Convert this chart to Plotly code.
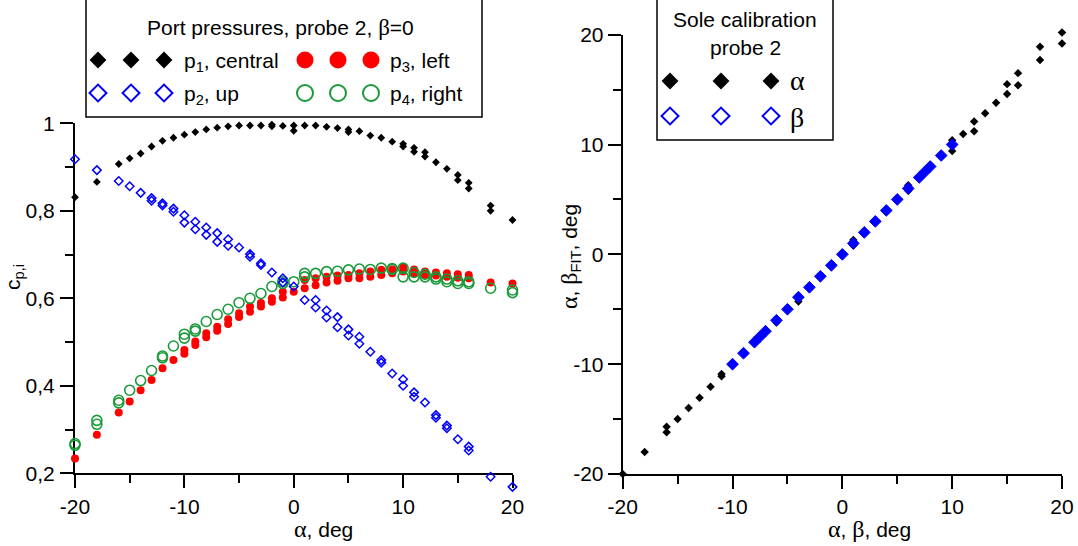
import plotly.graph_objects as go

W, H = 1078, 546

# ---- Port pressure coefficients, probe 2, beta = 0 ----
p1_alpha = [-20, -18, -16, -15, -14, -13, -12, -11, -10, -9, -8, -7, -6, -5, -4, -3, -2, -2, -1, 0, 0,
            1, 2, 3, 4, 5, 5, 6, 7, 8, 9, 10, 10, 11, 11, 12, 12, 13, 14, 15, 15, 16, 16, 18, 18, 20]
p1_cp = [0.831, 0.866, 0.907, 0.920, 0.931, 0.947, 0.960, 0.967, 0.974, 0.980, 0.986, 0.990, 0.993, 0.995,
         0.995, 0.995, 0.997, 0.993, 0.994, 0.995, 0.983,
         0.995, 0.995, 0.992, 0.989, 0.986, 0.980, 0.982, 0.972, 0.967, 0.958, 0.953, 0.947, 0.944, 0.935,
         0.934, 0.924, 0.911, 0.896, 0.882, 0.870, 0.864, 0.851, 0.812, 0.800, 0.779]

p2_alpha = [-20, -18, -16, -15, -14, -13, -13, -12, -12, -11, -11, -10, -10, -9, -9, -8, -8, -7, -7, -6, -6,
            -5, -4, -4, -3, -3, -2, -1, -1, 0, 1, 2, 2, 3, 3, 4, 4, 5, 5, 6, 6, 7, 8, 8, 9, 10, 10,
            11, 11, 12, 13, 13, 14, 14, 15, 16, 16, 18, 20]
p2_cp = [0.918, 0.893, 0.868, 0.856, 0.841, 0.829, 0.823, 0.817, 0.812, 0.805, 0.798, 0.790, 0.773, 0.775,
         0.758, 0.762, 0.745, 0.749, 0.729, 0.735, 0.720, 0.716, 0.701, 0.695, 0.680, 0.676, 0.659, 0.646,
         0.636, 0.627, 0.596, 0.596, 0.579, 0.572, 0.556, 0.557, 0.534, 0.529, 0.515, 0.512, 0.496, 0.478,
         0.459, 0.453, 0.428, 0.415, 0.400, 0.385, 0.375, 0.362, 0.333, 0.327, 0.309, 0.303, 0.278, 0.261,
         0.252, 0.192, 0.169]

p3_alpha = [-20, -18, -16, -15, -14, -13, -12, -11, -10, -10, -9, -9, -8, -8, -7, -7, -6, -6, -5, -5, -4, -4,
            -3, -3, -2, -2, -1, -1, 0, 1, 1, 2, 2, 3, 3, 4, 4, 5, 5, 6, 6, 7, 7, 8, 8, 9, 9, 10, 10,
            11, 11, 12, 12, 13, 13, 14, 14, 15, 15, 16, 16, 18, 20]
p3_cp = [0.234, 0.288, 0.339, 0.364, 0.390, 0.413, 0.440, 0.459, 0.482, 0.473, 0.501, 0.493, 0.520, 0.511,
         0.535, 0.526, 0.552, 0.541, 0.566, 0.557, 0.581, 0.569, 0.589, 0.581, 0.600, 0.592, 0.615, 0.602,
         0.615, 0.642, 0.623, 0.646, 0.630, 0.649, 0.636, 0.652, 0.640, 0.653, 0.646, 0.657, 0.646, 0.661,
         0.649, 0.665, 0.653, 0.666, 0.657, 0.671, 0.661, 0.666, 0.657, 0.661, 0.653, 0.659, 0.652, 0.657,
         0.649, 0.655, 0.647, 0.653, 0.646, 0.636, 0.634]

p4_alpha = [-20, -20, -18, -18, -16, -16, -15, -14, -13, -12, -12, -11, -10, -10, -9, -9, -8, -7, -6, -5, -4,
            -3, -2, -1, -1, 0, 1, 1, 2, 3, 4, 5, 6, 7, 8, 9, 9, 10, 10, 11, 11, 12, 12, 13, 13, 14, 14,
            15, 15, 16, 16, 18, 20, 20]
p4_cp = [0.268, 0.264, 0.321, 0.312, 0.367, 0.361, 0.390, 0.412, 0.435, 0.468, 0.464, 0.491, 0.518, 0.509,
         0.530, 0.525, 0.547, 0.563, 0.575, 0.590, 0.600, 0.611, 0.627, 0.634, 0.638, 0.638, 0.657, 0.649,
         0.657, 0.661, 0.662, 0.665, 0.667, 0.666, 0.669, 0.668, 0.666, 0.669, 0.649, 0.659, 0.649, 0.655,
         0.649, 0.649, 0.644, 0.644, 0.638, 0.640, 0.634, 0.638, 0.634, 0.623, 0.619, 0.613]

# ---- Sole calibration, probe 2: fitted vs. set angles ----
cal_alpha = [-20, -18, -16, -16, -15, -14, -13, -12, -11, -11, -10, -10, -9, -8, -7, -6, -6, -5, -4, -4,
             -3, -2, -1, 0, 1, 1, 2, 3, 4, 5, 6, 6, 7, 8, 9, 10, 10, 11, 12, 12, 13, 14, 15, 15, 16, 16,
             18, 18, 20, 20]
cal_alpha_fit = [-20.0, -18.0, -15.7, -16.2, -15.0, -14.0, -13.05, -12.05, -11.1, -10.9, -9.9, -10.1, -9.0,
                 -8.0, -7.0, -6.2, -5.9, -5.0, -4.3, -3.9, -3.0, -2.0, -1.0, 0.0, 1.3, 0.8, 2.0, 3.0, 4.0,
                 5.0, 6.3, 5.8, 7.0, 8.0, 9.0, 10.4, 9.4, 10.96, 12.1, 11.2, 12.85, 13.8, 15.5, 14.6, 16.5,
                 15.4, 18.9, 17.7, 20.2, 19.2]
cal_beta = [-10, -9, -8, -7.5, -7, -6, -5, -4, -3, -2, -1, 0, 1, 2, 3, 4, 5, 6, 7, 7.5, 8, 9, 10]
cal_beta_fit = [-10.0, -9.0, -8.0, -7.5, -7.0, -6.0, -5.0, -3.9, -3.0, -2.0, -1.0, 0.0, 1.0, 2.0, 3.0, 4.0,
                5.0, 6.0, 7.0, 7.5, 8.0, 9.0, 10.0]

# ---- Axis ticks ----
x_ticks = [-20, -10, 0, 10, 20]
x_ticktext = ["-20", "-10", "0", "10", "20"]
x_minor = [-15, -5, 5, 15]
cp_ticks = [0.2, 0.4, 0.6, 0.8, 1.0]
cp_ticktext = ["0,2", "0,4", "0,6", "0,8", "1"]
cp_minor = [0.3, 0.5, 0.7, 0.9]
fit_ticks = [-20, -10, 0, 10, 20]
fit_ticktext = ["-20", "-10", "0", "10", "20"]
fit_minor = [-15, -5, 5, 15]

SANS = "Liberation Sans, Arial, sans-serif"
SERIF = "Liberation Serif"
BLUE = "#0000ff"
RED = "#ff0000"
GREEN = "#1a9a3a"
FS = 21

# pixel frames of the two panels (left, right, bottom, top)
L_X0, L_X1, L_Y0, L_Y1 = 75, 512.5, 473.3, 123.3
R_X0, R_X1, R_Y0, R_Y1 = 622.7, 1062, 474, 34.7
ALPHA_RANGE = [-20, 20]
CP_RANGE = [0.2, 1.0]
FIT_RANGE = [-20, 20]
# data layers get a slightly taller frame so points just past the axes stay visible
CP_DATA_RANGE = [0.1, 1.0]
FIT_DATA_RANGE = [-22, 22]


def gk(ch, size=24):
    return f"<span style='font-family:{SERIF};font-size:{size}px'>{ch}</span>"


def px(xp):
    return xp / W


def py(yp):
    return 1 - yp / H


def extended_domain(y0, y1, rng, data_rng):
    scale = (y0 - y1) / (rng[1] - rng[0])
    lo = y0 + (rng[0] - data_rng[0]) * scale
    hi = y1 - (data_rng[1] - rng[1]) * scale
    return [py(lo), py(hi)]


fig = go.Figure()

# empty traces so the two framed subplots (with their visible axes) get created
fig.add_trace(go.Scatter(x=[], y=[], mode="markers", xaxis="x", yaxis="y", hoverinfo="skip"))
fig.add_trace(go.Scatter(x=[], y=[], mode="markers", xaxis="x2", yaxis="y2", hoverinfo="skip"))

# left panel data (layer x4/y4)
fig.add_trace(go.Scatter(x=p3_alpha, y=p3_cp, mode="markers", xaxis="x4", yaxis="y4",
                         marker=dict(symbol="circle", size=8, color=RED), cliponaxis=False))
fig.add_trace(go.Scatter(x=p4_alpha, y=p4_cp, mode="markers", xaxis="x4", yaxis="y4",
                         marker=dict(symbol="circle-open", size=10, color=GREEN, line=dict(width=1.6)),
                         cliponaxis=False))
fig.add_trace(go.Scatter(x=p1_alpha, y=p1_cp, mode="markers", xaxis="x4", yaxis="y4",
                         marker=dict(symbol="diamond", size=6, color="black"), cliponaxis=False))
fig.add_trace(go.Scatter(x=p2_alpha, y=p2_cp, mode="markers", xaxis="x4", yaxis="y4",
                         marker=dict(symbol="diamond-open", size=6.5, color=BLUE, line=dict(width=1.5)),
                         cliponaxis=False))

# right panel data (layer x5/y5)
fig.add_trace(go.Scatter(x=cal_alpha, y=cal_alpha_fit, mode="markers", xaxis="x5", yaxis="y5",
                         marker=dict(symbol="diamond", size=6.5, color="black"), cliponaxis=False))
fig.add_trace(go.Scatter(x=cal_beta, y=cal_beta_fit, mode="markers", xaxis="x5", yaxis="y5",
                         marker=dict(symbol="diamond", size=9, color=BLUE, line=dict(width=1, color=BLUE)),
                         cliponaxis=False))

# legend symbols, placed on a page-pixel overlay axis
leg_x = [98, 131, 164, 305, 338, 371, 98, 131, 164, 305, 338, 371]
leg_rows = [60, 60, 60, 60, 60, 60, 93, 93, 93, 93, 93, 93]
fig.add_trace(go.Scatter(x=leg_x[0:3], y=leg_rows[0:3], mode="markers", xaxis="x3", yaxis="y3",
                         marker=dict(symbol="diamond", size=13, color="black"), cliponaxis=False))
fig.add_trace(go.Scatter(x=leg_x[3:6], y=leg_rows[3:6], mode="markers", xaxis="x3", yaxis="y3",
                         marker=dict(symbol="circle", size=17, color=RED), cliponaxis=False))
fig.add_trace(go.Scatter(x=leg_x[6:9], y=leg_rows[6:9], mode="markers", xaxis="x3", yaxis="y3",
                         marker=dict(symbol="diamond-open", size=13, color=BLUE, line=dict(width=2)),
                         cliponaxis=False))
fig.add_trace(go.Scatter(x=leg_x[9:12], y=leg_rows[9:12], mode="markers", xaxis="x3", yaxis="y3",
                         marker=dict(symbol="circle-open", size=16, color=GREEN, line=dict(width=2)),
                         cliponaxis=False))
leg2_x = [670, 721, 771]
fig.add_trace(go.Scatter(x=leg2_x, y=[81, 81, 81], mode="markers", xaxis="x3", yaxis="y3",
                         marker=dict(symbol="diamond", size=13, color="black"), cliponaxis=False))
fig.add_trace(go.Scatter(x=leg2_x, y=[116, 116, 116], mode="markers", xaxis="x3", yaxis="y3",
                         marker=dict(symbol="diamond-open", size=13, color=BLUE, line=dict(width=2)),
                         cliponaxis=False))

axis_common = dict(showline=True, linecolor="black", linewidth=2, ticks="outside", ticklen=13,
                   tickwidth=2, tickcolor="black", showgrid=False, zeroline=False, automargin=False,
                   fixedrange=True, tickfont=dict(family=SANS, size=FS, color="black"))
minor_common = dict(ticklen=8, tickwidth=2, tickcolor="black", ticks="outside", showgrid=False)
hidden = dict(visible=False, fixedrange=True, automargin=False, showgrid=False, zeroline=False)

fig.update_layout(
    template="none",
    width=W, height=H, margin=dict(l=0, r=0, t=0, b=0, pad=0),
    paper_bgcolor="white", plot_bgcolor="rgba(0,0,0,0)",
    showlegend=False, font=dict(family=SANS, size=FS, color="black"),
    # visible axes
    xaxis=dict(domain=[px(L_X0), px(L_X1)], range=ALPHA_RANGE, anchor="y",
               tickvals=x_ticks, ticktext=x_ticktext, minor=dict(tickvals=x_minor, **minor_common),
               **axis_common),
    yaxis=dict(domain=[py(L_Y0), py(L_Y1)], range=CP_RANGE, anchor="x",
               tickvals=cp_ticks, ticktext=cp_ticktext, minor=dict(tickvals=cp_minor, **minor_common),
               ticklabelstandoff=1, **axis_common),
    xaxis2=dict(domain=[px(R_X0), px(R_X1)], range=ALPHA_RANGE, anchor="y2",
                tickvals=x_ticks, ticktext=x_ticktext, minor=dict(tickvals=x_minor, **minor_common),
                **axis_common),
    yaxis2=dict(domain=[py(R_Y0), py(R_Y1)], range=FIT_RANGE, anchor="x2",
                tickvals=fit_ticks, ticktext=fit_ticktext, minor=dict(tickvals=fit_minor, **minor_common),
                **axis_common),
    # page-pixel layer for the legend symbols
    xaxis3=dict(domain=[0, 1], range=[0, W], anchor="y3", **hidden),
    yaxis3=dict(domain=[0, 1], range=[H, 0], anchor="x3", **hidden),
    # data layers
    xaxis4=dict(domain=[px(L_X0), px(L_X1)], range=ALPHA_RANGE, anchor="y4", **hidden),
    yaxis4=dict(domain=extended_domain(L_Y0, L_Y1, CP_RANGE, CP_DATA_RANGE), range=CP_DATA_RANGE,
                anchor="x4", **hidden),
    xaxis5=dict(domain=[px(R_X0), px(R_X1)], range=ALPHA_RANGE, anchor="y5", **hidden),
    yaxis5=dict(domain=extended_domain(R_Y0, R_Y1, FIT_RANGE, FIT_DATA_RANGE), range=FIT_DATA_RANGE,
                anchor="x5", **hidden),
)

# legend frames
fig.add_shape(type="rect", xref="paper", yref="paper", x0=px(86), x1=px(482), y0=py(117), y1=py(-3),
              line=dict(color="black", width=1.5), fillcolor="white", layer="below")
fig.add_shape(type="rect", xref="paper", yref="paper", x0=px(657), x1=px(833), y0=py(140), y1=py(-3),
              line=dict(color="black", width=1.5), fillcolor="white", layer="below")


def note(text, x, y, xanchor="left", yanchor="middle", angle=0, size=FS):
    fig.add_annotation(text=text, xref="paper", yref="paper", x=px(x), y=py(y), xanchor=xanchor,
                       yanchor=yanchor, showarrow=False, textangle=angle,
                       font=dict(family=SANS, size=size, color="black"))


# legend texts
note(f"Port pressures, probe 2, {gk('β', 23)}=0", 280, 27, xanchor="center")
note("p<sub>1</sub>, central", 182, 62)
note("p<sub>2</sub>, up", 182, 95)
note("p<sub>3</sub>, left", 388, 62)
note("p<sub>4</sub>, right", 388, 95)
note("Sole calibration", 745, 20, xanchor="center")
note("probe 2", 745, 47, xanchor="center")
note(gk("α", 28), 788, 80)
note(gk("β", 28), 788, 117)

# axis titles
note(f"{gk('α')}, deg", 292, 529)
note(f"{gk('α')}, {gk('β')}, deg", 826, 529)
note("c<sub>p,i</sub>", 14, 277, xanchor="center", angle=-90)
note(f"{gk('α')}, {gk('β')}<sub>FIT</sub>, deg", 570, 257, xanchor="center", angle=-90)

fig.write_html("out.html")
